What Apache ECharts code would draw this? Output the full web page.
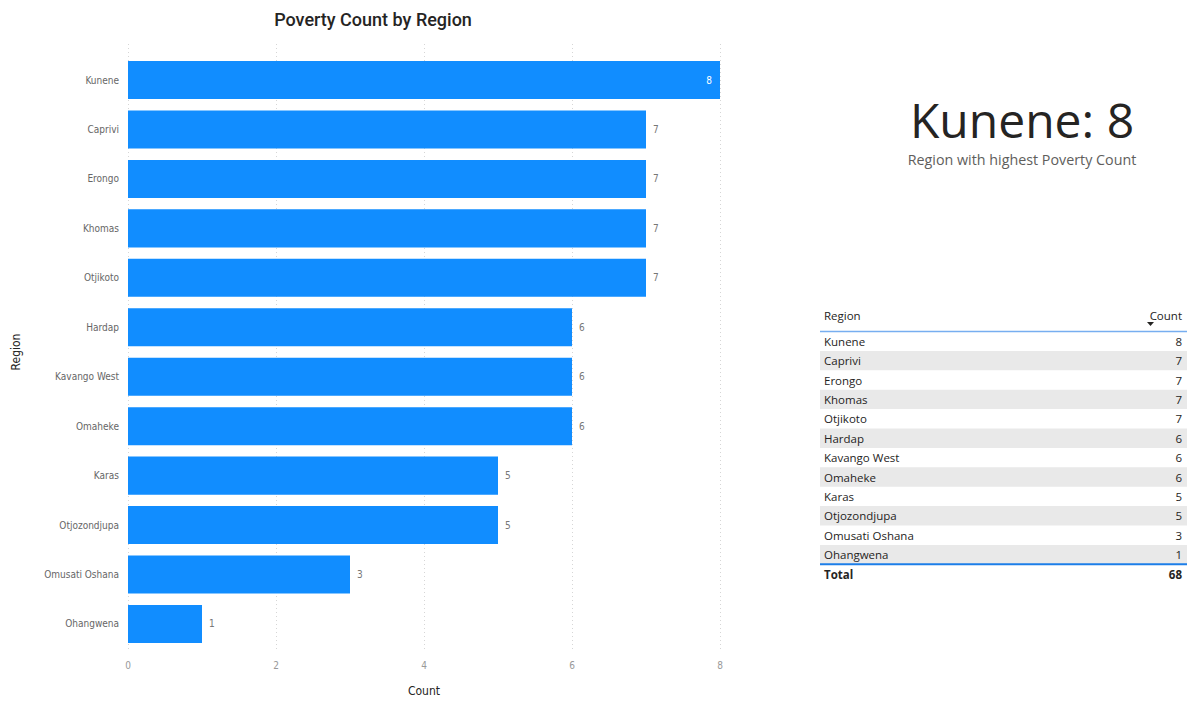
<!DOCTYPE html>
<html>
<head>
<meta charset="utf-8">
<script src="https://cdn.jsdelivr.net/npm/echarts@6/dist/echarts.min.js"></script>
<style>
html,body{margin:0;padding:0;background:#fff;}
#c{width:1190px;height:702px;}
</style>
</head>
<body>
<div id="c"></div>
<script>
const regions = ['Kunene','Caprivi','Erongo','Khomas','Otjikoto','Hardap','Kavango West','Omaheke','Karas','Otjozondjupa','Omusati Oshana','Ohangwena'];
const counts = [8,7,7,7,7,6,6,6,5,5,3,1];
const xTicks = [0,2,4,6,8];
const chartTitle = 'Poverty Count by Region';
const tableHeaders = ['Region','Count'];
const totalLabel = 'Total';

const total = counts.reduce((a,b)=>a+b,0);
const maxVal = Math.max(...counts);
const maxRegion = regions[counts.indexOf(maxVal)];

const chart = echarts.init(document.getElementById('c'), null, {renderer:'svg'});

const barData = counts.map(v => v === maxVal
  ? {value:v, label:{position:'insideRight', color:'#ffffff', distance:8}}
  : v);

// table graphics
const g = [];
const tX0 = 820, tX1 = 1187, rowH = 19.4, firstTop = 331.5;
g.push({type:'text', left:824, top:309, style:{text:tableHeaders[0], font:'11.5px "Open Sans"', fill:'#252423'}});
g.push({type:'text', right:1190-1182, top:309, style:{text:tableHeaders[1], font:'11.5px "Open Sans"', fill:'#252423', textAlign:'right'}});
g.push({type:'polygon', shape:{points:[[1147,322],[1154,322],[1150.5,326]]}, style:{fill:'#252423'}});
regions.forEach((r,i)=>{
  const top = firstTop + i*rowH;
  if (i % 2 === 1) {
    g.push({type:'rect', shape:{x:tX0, y:top, width:tX1-tX0, height:rowH}, style:{fill:'#e9e9e9'}, z:0});
  }
  g.push({type:'text', x:824, y:top+rowH/2, style:{text:r, font:'11.5px "Open Sans"', fill:'#252423', textVerticalAlign:'middle', textAlign:'left'}, z:2});
  g.push({type:'text', x:1182, y:top+rowH/2, style:{text:String(counts[i]), font:'11.5px "Open Sans"', fill:'#252423', textVerticalAlign:'middle', textAlign:'right'}, z:2});
});
g.push({type:'line', shape:{x1:tX0,y1:firstTop,x2:tX1,y2:firstTop}, style:{stroke:'#77aef0', lineWidth:1.5}, z:3});
const bottomY = firstTop + regions.length*rowH;
g.push({type:'line', shape:{x1:tX0,y1:bottomY,x2:tX1,y2:bottomY}, style:{stroke:'#1c7ee8', lineWidth:2}, z:3});
g.push({type:'text', x:824, y:bottomY+10.5, style:{text:totalLabel, font:'bold 11.5px "Open Sans"', fill:'#252423', textVerticalAlign:'middle'}, z:2});
g.push({type:'text', x:1182, y:bottomY+10.5, style:{text:String(total), font:'bold 11.5px "Open Sans"', fill:'#252423', textVerticalAlign:'middle', textAlign:'right'}, z:2});

// KPI card
g.push({type:'text', x:1022, y:119, style:{text:maxRegion + ': ' + maxVal, font:'48px "Open Sans"', fill:'#252423', textAlign:'center', textVerticalAlign:'middle'}});
g.push({type:'text', x:1022, y:159, style:{text:'Region with highest Poverty Count', font:'14.3px "Open Sans"', fill:'#605e5c', textAlign:'center', textVerticalAlign:'middle'}});

// chart title
g.push({type:'text', x:373, y:19, style:{text:chartTitle, font:'500 18px "Roboto"', fill:'#252423', textAlign:'center', textVerticalAlign:'middle'}});

const option = {
  animation:false,
  grid:[
    {left:128, width:592, top:44, bottom:42},
    {left:128, width:592, top:55.3, height:593.4}
  ],
  xAxis:[
    {gridIndex:0, type:'value', min:xTicks[0], max:xTicks[xTicks.length-1], interval:2,
     axisLine:{show:false}, axisTick:{show:false},
     axisLabel:{color:'#999999', fontSize:10, margin:11, fontFamily:'DejaVu Sans Condensed'},
     splitLine:{show:true, lineStyle:{color:'#d6d6d6', type:[1,3], width:1}},
     name:'Count', nameLocation:'middle', nameGap:36,
     nameTextStyle:{color:'#252423', fontSize:12, fontFamily:'DejaVu Sans Condensed'}},
    {gridIndex:1, type:'value', min:xTicks[0], max:xTicks[xTicks.length-1], show:false}
  ],
  yAxis:[
    {gridIndex:0, type:'value', show:false, min:0, max:1},
    {gridIndex:1, type:'category', data:regions, inverse:true,
     axisLine:{show:false}, axisTick:{show:false},
     axisLabel:{color:'#666666', fontSize:10, margin:9, fontFamily:'DejaVu Sans Condensed'},
     name:'Region', nameLocation:'middle', nameGap:106, nameRotate:90,
     nameTextStyle:{color:'#252423', fontSize:12, fontFamily:'DejaVu Sans Condensed'}}
  ],
  series:[{
    type:'bar', xAxisIndex:1, yAxisIndex:1, data:barData,
    barCategoryGap:'23%',
    itemStyle:{color:'#118DFF'},
    label:{show:true, position:'right', distance:7, color:'#777777', fontSize:10, fontFamily:'DejaVu Sans Condensed'}
  }],
  graphic:g
};
chart.setOption(option);
</script>
</body>
</html>
